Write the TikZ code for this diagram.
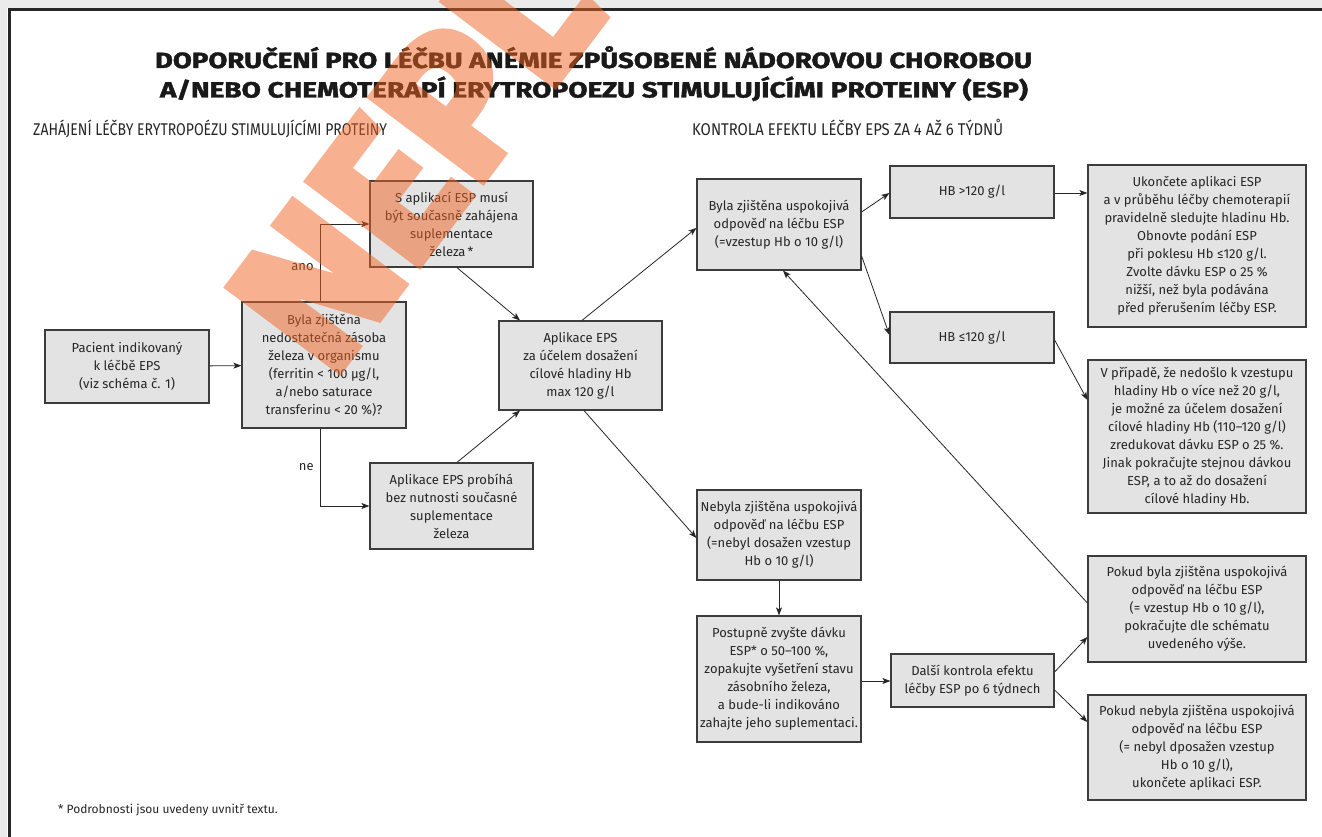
\documentclass[tikz,border=0pt]{standalone}
\usepackage{fontspec}
\usepackage{graphicx}
\setmainfont{Fira Sans}
\usetikzlibrary{arrows.meta}
\definecolor{boxfill}{HTML}{E3E3E3}
\definecolor{boxline}{HTML}{3C3C3C}
\definecolor{ink}{HTML}{262626}
\definecolor{wm}{HTML}{F26522}
\definecolor{scan}{HTML}{EBEBEB}
% keep the natural height, stretch or squeeze to a given width
\newcommand\fitwidth[2]{\resizebox{#1}{\height}{#2}}
\begin{document}
\begin{tikzpicture}[x=1pt,y=-1pt,
  box/.style={draw=boxline, fill=boxfill, line width=1.2pt, inner sep=0pt,
    align=center, text=ink, font=\fontsize{13}{18}\selectfont},
  sz/.style 2 args={minimum width=#1pt, minimum height=#2pt},
  arr/.style={draw=ink, line width=0.8pt, -{Stealth[length=8pt,width=6pt,inset=2pt]}},
  lbl/.style={text=ink, font=\fontsize{13}{16}\selectfont, inner sep=0pt},
  head/.style={text=ink, inner sep=0pt, font=\fontsize{17}{20}\selectfont},
  ttl/.style={text=black!90, inner sep=0pt,
    font=\fontsize{22}{26}\bfseries\selectfont\addfontfeatures{FakeBold=1.6}},
]
\useasboundingbox (0,0) rectangle (1322,837);
\fill[white] (0,0) rectangle (1322,837);
% page edge and frame
\fill[scan] (0,0) rectangle (1322,8);
\fill[scan] (0,0) rectangle (7,837);
\draw[line width=3pt, draw=black!85] (1322,9.5) -- (9,9.5) -- (9,837);

% title and section headings
\node[ttl, anchor=base] (title1) at (593.5,68)
  {\fitwidth{877pt}{DOPORUČENÍ PRO LÉČBU ANÉMIE ZPŮSOBENÉ NÁDOROVOU CHOROBOU}};
\node[ttl, anchor=base] (title2) at (594,97.5)
  {\fitwidth{868pt}{A/NEBO CHEMOTERAPÍ ERYTROPOEZU STIMULUJÍCÍMI PROTEINY (ESP)}};
\node[head, anchor=base west] (headL) at (33,136)
  {\fitwidth{354pt}{ZAHÁJENÍ LÉČBY ERYTROPOÉZU STIMULUJÍCÍMI PROTEINY}};
\node[head, anchor=base west] (headR) at (692,136)
  {\fitwidth{311pt}{KONTROLA EFEKTU LÉČBY EPS ZA 4 AŽ 6 TÝDNŮ}};

% left part: start of the treatment
\node[box, sz={164}{73}] (pac) at (127,366.5)
  {Pacient indikovaný\\k léčbě EPS\\(viz schéma č. 1)};
\node[box, sz={164}{126}] (byla) at (324,365)
  {Byla zjištěna\\nedostatečná zásoba\\železa v organismu\\(ferritin < 100 µg/l,\\a/nebo saturace\\transferinu < 20 \%)?};
\node[box, sz={163}{86}] (sapl) at (451.5,224)
  {S aplikací ESP musí\\být současně zahájena\\suplementace\\železa\,*};
\node[box, sz={163}{86}] (bez) at (451.5,506)
  {Aplikace EPS probíhá\\bez nutnosti současné\\suplementace\\železa};
\node[box, sz={163}{89}] (apl) at (580.5,365.5)
  {Aplikace EPS\\za účelem dosažení\\cílové hladiny Hb\\max 120 g/l};

% middle column: response after 4 to 6 weeks
\node[box, sz={164}{91}] (usp) at (779,224.5)
  {Byla zjištěna uspokojivá\\odpověď na léčbu ESP\\(=vzestup Hb o 10 g/l)};
\node[box, sz={164}{90}] (neusp) at (779,535)
  {Nebyla zjištěna uspokojivá\\odpověď na léčbu ESP\\(=nebyl dosažen vzestup\\Hb o 10 g/l)};
\node[box, sz={164}{126}] (post) at (779,679)
  {Postupně zvyšte dávku\\ESP* o 50–100 \%,\\zopakujte vyšetření stavu\\zásobního železa,\\a bude-li indikováno\\zahajte jeho suplementaci.};
\node[box, sz={164}{52}] (hbhi) at (972,192) {HB >120 g/l};
\node[box, sz={164}{51}] (hblo) at (972,337.5) {HB ≤120 g/l};
\node[box, sz={163}{53}] (dalsi) at (972.5,680.5)
  {Další kontrola efektu\\léčby ESP po 6 týdnech};

% right column: what to do next
\node[box, sz={218}{162}] (ukon) at (1197,246)
  {Ukončete aplikaci ESP\\a v průběhu léčby chemoterapií\\pravidelně sledujte hladinu Hb.\\Obnovte podání ESP\\při poklesu Hb ≤120 g/l.\\Zvolte dávku ESP o 25 \%\\nižší, než byla podávána\\před přerušením léčby ESP.};
\node[box, sz={218}{153}] (vpr) at (1197,436.5)
  {V případě, že nedošlo k vzestupu\\hladiny Hb o více než 20 g/l,\\je možné za účelem dosažení\\cílové hladiny Hb (110–120 g/l)\\zredukovat dávku ESP o 25 \%.\\Jinak pokračujte stejnou dávkou\\ESP, a to až do dosažení\\cílové hladiny Hb.};
\node[box, sz={218}{106}] (pokb) at (1197,609)
  {Pokud byla zjištěna uspokojivá\\odpověď na léčbu ESP\\(= vzestup Hb o 10 g/l),\\pokračujte dle schématu\\uvedeného výše.};
\node[box, sz={218}{105}] (pokn) at (1197,747.5)
  {Pokud nebyla zjištěna uspokojivá\\odpověď na léčbu ESP\\(= nebyl dposažen vzestup\\Hb o 10 g/l),\\ukončete aplikaci ESP.};

% footnote
\node[lbl, anchor=west, font=\fontsize{12}{14}\selectfont] (foot) at (58,810)
  {* Podrobnosti jsou uvedeny uvnitř textu.};

% connectors
\draw[arr] (pac) -- (byla);
\draw[arr] ([xshift=-4pt]byla.north) |- node[lbl, pos=0.22, left=6pt] (ano) {ano} (sapl.west);
\draw[arr] ([xshift=-4pt]byla.south) |- node[lbl, pos=0.25, left=6pt] (ne) {ne} (bez.west);
\draw[arr] ([xshift=5.5pt]sapl.south) -- ([xshift=-60.5pt]apl.north);
\draw[arr] ([xshift=5.5pt]bez.north) -- ([xshift=-60.5pt]apl.south);
\draw[arr] ([xshift=1.5pt]apl.north) -- ([yshift=-3.5pt]usp.west);
\draw[arr] ([xshift=3.5pt]apl.south) -- ([yshift=-3pt]neusp.west);
\draw[arr] ([yshift=12.5pt]usp.east) -- ([yshift=-1pt]hbhi.west);
\draw[arr] ([yshift=-31.5pt]usp.east) -- ([yshift=2.5pt]hblo.west);
\draw[arr] ([yshift=-1pt]hbhi.east) -- ([yshift=-1pt]hbhi.east -| ukon.west);
\draw[arr] ([yshift=-2.5pt]hblo.east) -- ([yshift=36.5pt]vpr.west);
\draw[arr] (neusp.south) -- (post.north);
\draw[arr] ([yshift=-2pt]post.east) -- ([yshift=-2pt]post.east -| dalsi.west);
\draw[arr] ([yshift=8.5pt]dalsi.east) -- ([yshift=-28pt]pokb.west);
\draw[arr] ([yshift=-9.5pt]dalsi.east) -- ([yshift=25.5pt]pokn.west);
\draw[arr] ([yshift=6pt]pokb.west) -- ([xshift=4pt]usp.south);

% stamp across the upper left, see-through as one piece
\begin{scope}[transparency group, opacity=0.5]
  \clip (0,0) rectangle (1322,837);
  \node[rotate=53, text=wm, inner sep=0pt,
    font=\fontsize{200}{200}\bfseries\selectfont\addfontfeatures{FakeBold=4}]
    (stamp) at (415,155) {NEPL};
\end{scope}
\end{tikzpicture}
\end{document}
